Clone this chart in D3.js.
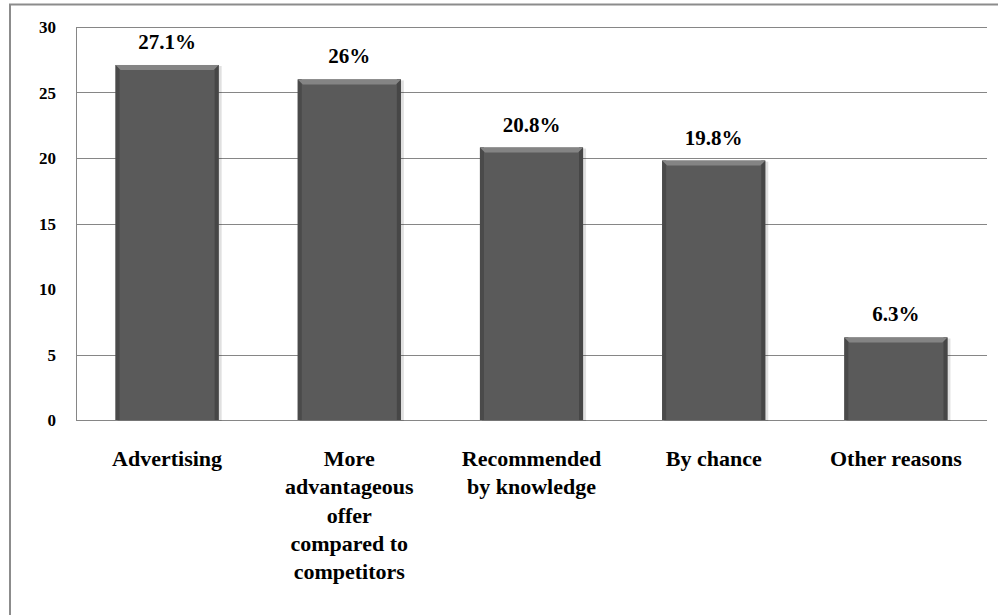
<!DOCTYPE html>
<html>
<head>
<meta charset="utf-8">
<script src="https://cdn.jsdelivr.net/npm/d3@7"></script>
</head>
<body style="margin:0">
<div class="graph"></div>
<script>
const categories = ["Advertising", "More advantageous offer compared to competitors", "Recommended by knowledge", "By chance", "Other reasons"];
// how each category label is broken into lines
const labelLines = [
  ["Advertising"],
  ["More", "advantageous", "offer", "compared to", "competitors"],
  ["Recommended", "by knowledge"],
  ["By chance"],
  ["Other reasons"]
];
const values = [27.1, 26, 20.8, 19.8, 6.3];
const valueLabels = ["27.1%", "26%", "20.8%", "19.8%", "6.3%"];
const yTicks = [0, 5, 10, 15, 20, 25, 30];

let width = 998;
let height = 615;
let margin = {top: 27, right: 11, bottom: 195, left: 76};

// bold serif text
function serifText(sel, size){
  sel.style("font-family", "'Liberation Serif'")
    .style("font-weight", "bold")
    .style("font-size", size + "px")
    .style("fill", "#000");
}

let svg = d3.select(".graph")
  .append("svg")
  .attr("width", width)
  .attr("height", height);

// outer frame of the chart (clipped at right and bottom in the original)
svg.append("rect")
  .attr("x", 10).attr("y", 4.5)
  .attr("width", 995).attr("height", 620)
  .attr("fill", "none")
  .attr("stroke", "#8c8c8c")
  .attr("stroke-width", 2);

let x = d3.scaleBand()
  .domain(categories)
  .range([margin.left, width - margin.right])
  .paddingInner(0.434)
  .paddingOuter(0.217);

let y = d3.scaleLinear()
  .domain([0, 30])
  .range([height - margin.bottom, margin.top]);

// gridlines; the original image has no line at 10
svg.append("g")
  .selectAll("line")
  .data(yTicks.filter(d => d !== 10))
  .enter().append("line")
  .attr("x1", margin.left)
  .attr("x2", width - margin.right)
  .attr("y1", d => Math.round(y(d)) + 0.5)
  .attr("y2", d => Math.round(y(d)) + 0.5)
  .attr("stroke", "#868686")
  .attr("stroke-width", 1);

// left axis line
svg.append("line")
  .attr("x1", margin.left + 0.5).attr("x2", margin.left + 0.5)
  .attr("y1", y(30)).attr("y2", y(0))
  .attr("stroke", "#868686");

// tick labels
svg.selectAll(".tick")
  .data(yTicks)
  .enter().append("text")
  .attr("class", "tick")
  .attr("x", margin.left - 20)
  .attr("y", d => y(d) + 6)
  .attr("text-anchor", "end")
  .call(serifText, 17)
  .text(String);

let bars = svg.selectAll(".bar")
  .data(values)
  .enter().append("g")
  .attr("class", "bar");

// soft shadow to the right
bars.append("rect")
  .attr("x", (d, i) => x(categories[i]) + 2)
  .attr("y", d => y(d) + 1)
  .attr("width", x.bandwidth() + 1)
  .attr("height", d => y(0) - y(d))
  .attr("fill", "#000")
  .attr("opacity", 0.12);

bars.append("rect")
  .attr("x", (d, i) => x(categories[i]))
  .attr("y", d => y(d))
  .attr("width", x.bandwidth())
  .attr("height", d => y(0) - y(d))
  .attr("fill", "#5a5a5a");

// darker side edges
bars.append("rect")
  .attr("x", (d, i) => x(categories[i]))
  .attr("y", d => y(d))
  .attr("width", 4)
  .attr("height", d => y(0) - y(d))
  .attr("fill", "#4a4a4a");
bars.append("rect")
  .attr("x", (d, i) => x(categories[i]) + x.bandwidth() - 4)
  .attr("y", d => y(d))
  .attr("width", 4)
  .attr("height", d => y(0) - y(d))
  .attr("fill", "#464646");

// top bevel as a trapezoid
bars.append("path")
  .attr("d", function(d, i){
    let x0 = x(categories[i]);
    let x1 = x0 + x.bandwidth();
    let t = y(d);
    return "M" + x0 + "," + t + "L" + x1 + "," + t +
      "L" + (x1 - 5) + "," + (t + 5) + "L" + (x0 + 5) + "," + (t + 5) + "Z";
  })
  .attr("fill", "#848484");

// value labels above the bars
svg.selectAll(".value")
  .data(values)
  .enter().append("text")
  .attr("class", "value")
  .attr("x", (d, i) => x(categories[i]) + x.bandwidth() / 2)
  .attr("y", d => y(d) - 16)
  .attr("text-anchor", "middle")
  .call(serifText, 21)
  .text((d, i) => valueLabels[i]);

// category labels
svg.selectAll(".cat")
  .data(categories)
  .enter().append("text")
  .attr("class", "cat")
  .attr("text-anchor", "middle")
  .call(serifText, 22)
  .each(function(d, i){
    let cx = x(d) + x.bandwidth() / 2;
    d3.select(this).selectAll("tspan")
      .data(labelLines[i])
      .enter().append("tspan")
      .attr("x", cx)
      .attr("y", (t, j) => 466 + j * 28.3)
      .text(String);
  });
</script>
</body>
</html>
